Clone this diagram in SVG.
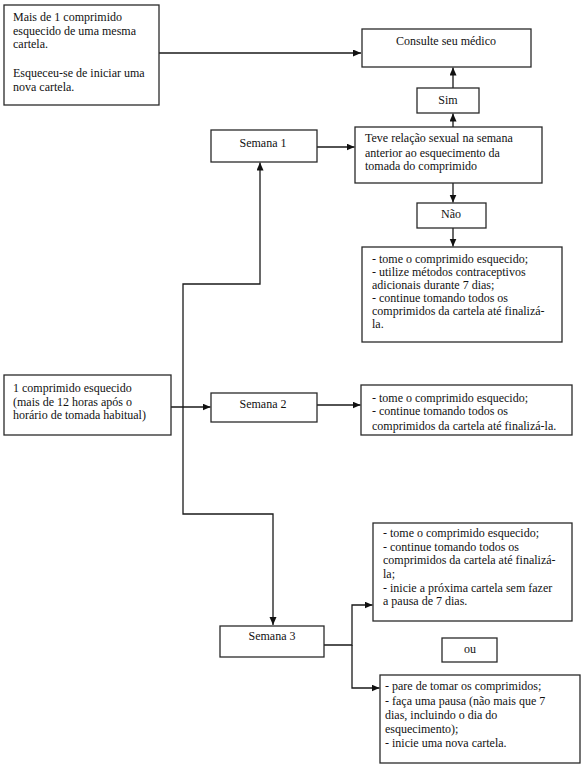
<svg xmlns="http://www.w3.org/2000/svg" width="582" height="768" viewBox="0 0 582 768">
<style>
.box{fill:#fff;stroke:#2a2a2a;stroke-width:1.3}
.t{font-family:"Liberation Serif","Times New Roman",serif;font-size:12px;fill:#111}
.c{text-anchor:middle}
.ln{fill:none;stroke:#1a1a1a;stroke-width:1.3}
</style>
<defs>
<marker id="ah" markerUnits="userSpaceOnUse" markerWidth="9" markerHeight="8" refX="8" refY="3.5" orient="auto">
<path d="M0,0 L8,3.5 L0,7 z" fill="#111"/>
</marker>
</defs>
<rect width="582" height="768" fill="#fff"/>
<g id="connectors">
<path class="ln" d="M159,53 H361" marker-end="url(#ah)"/>
<path class="ln" d="M453,88 V67.5" marker-end="url(#ah)"/>
<path class="ln" d="M453,127 V113.5" marker-end="url(#ah)"/>
<path class="ln" d="M453,183 V202.5" marker-end="url(#ah)"/>
<path class="ln" d="M453,228 V246.5" marker-end="url(#ah)"/>
<path class="ln" d="M317,147 H354.5" marker-end="url(#ah)"/>
<path class="ln" d="M183,407 V284 H260 V162.5" marker-end="url(#ah)"/>
<path class="ln" d="M183,407 V514 H273 V625" marker-end="url(#ah)"/>
<path class="ln" d="M171,407 H210.5" marker-end="url(#ah)"/>
<path class="ln" d="M317,405 H360.5" marker-end="url(#ah)"/>
<path class="ln" d="M324,645 H352 V605 H372.5" marker-end="url(#ah)"/>
<path class="ln" d="M352,645 V688 H379.5" marker-end="url(#ah)"/>
</g>
<g id="n-mais">
<rect class="box" x="4" y="5" width="155" height="100"/>
<text class="t" x="13" y="21">Mais de 1 comprimido</text>
<text class="t" x="13" y="35">esquecido de uma mesma</text>
<text class="t" x="13" y="48">cartela.</text>
<text class="t" x="13" y="77">Esqueceu-se de iniciar uma</text>
<text class="t" x="13" y="91">nova cartela.</text>
</g>
<g id="n-consulte">
<rect class="box" x="362" y="29" width="169" height="38"/>
<text class="t c" x="446" y="45">Consulte seu médico</text>
</g>
<g id="n-sim">
<rect class="box" x="417" y="88" width="62" height="25"/>
<text class="t c" x="448" y="104">Sim</text>
</g>
<g id="n-teve">
<rect class="box" x="355" y="127" width="187" height="56"/>
<text class="t" x="365" y="142">Teve relação sexual na semana</text>
<text class="t" x="365" y="157">anterior ao esquecimento da</text>
<text class="t" x="365" y="170">tomada do comprimido</text>
</g>
<g id="n-semana1">
<rect class="box" x="211" y="130" width="106" height="32"/>
<text class="t c" x="263" y="147">Semana 1</text>
</g>
<g id="n-nao">
<rect class="box" x="417" y="203" width="69" height="25"/>
<text class="t c" x="451" y="218">Não</text>
</g>
<g id="n-s1acao">
<rect class="box" x="362" y="247" width="200" height="95"/>
<text class="t" x="372" y="263">- tome o comprimido esquecido;</text>
<text class="t" x="372" y="276">- utilize métodos contraceptivos</text>
<text class="t" x="372" y="289">adicionais durante 7 dias;</text>
<text class="t" x="372" y="302">- continue tomando todos os</text>
<text class="t" x="372" y="315">comprimidos da cartela até finalizá-</text>
<text class="t" x="372" y="328">la.</text>
</g>
<g id="n-um">
<rect class="box" x="4" y="375" width="167" height="60"/>
<text class="t" x="13" y="392">1 comprimido esquecido</text>
<text class="t" x="13" y="406">(mais de 12 horas após o</text>
<text class="t" x="13" y="419">horário de tomada habitual)</text>
</g>
<g id="n-semana2">
<rect class="box" x="211" y="393" width="106" height="29"/>
<text class="t c" x="263" y="408">Semana 2</text>
</g>
<g id="n-s2acao">
<rect class="box" x="361" y="385" width="211" height="50"/>
<text class="t" x="372" y="402">- tome o comprimido esquecido;</text>
<text class="t" x="372" y="415">- continue tomando todos os</text>
<text class="t" x="372" y="430">comprimidos da cartela até finalizá-la.</text>
</g>
<g id="n-semana3">
<rect class="box" x="220" y="626" width="104" height="31"/>
<text class="t c" x="272" y="640">Semana 3</text>
</g>
<g id="n-s3a">
<rect class="box" x="373" y="523" width="199" height="98"/>
<text class="t" x="383" y="537">- tome o comprimido esquecido;</text>
<text class="t" x="383" y="551">- continue tomando todos os</text>
<text class="t" x="383" y="564">comprimidos da cartela até finalizá-</text>
<text class="t" x="383" y="578">la;</text>
<text class="t" x="383" y="592">- inicie a próxima cartela sem fazer</text>
<text class="t" x="383" y="605">a pausa de 7 dias.</text>
</g>
<g id="n-ou">
<rect class="box" x="442" y="638" width="55" height="24"/>
<text class="t c" x="470" y="653">ou</text>
</g>
<g id="n-s3b">
<rect class="box" x="380" y="675" width="200" height="88"/>
<text class="t" x="385" y="690">- pare de tomar os comprimidos;</text>
<text class="t" x="385" y="705">- faça uma pausa (não mais que 7</text>
<text class="t" x="385" y="719">dias, incluindo o dia do</text>
<text class="t" x="385" y="733">esquecimento);</text>
<text class="t" x="385" y="747">- inicie uma nova cartela.</text>
</g>
</svg>
